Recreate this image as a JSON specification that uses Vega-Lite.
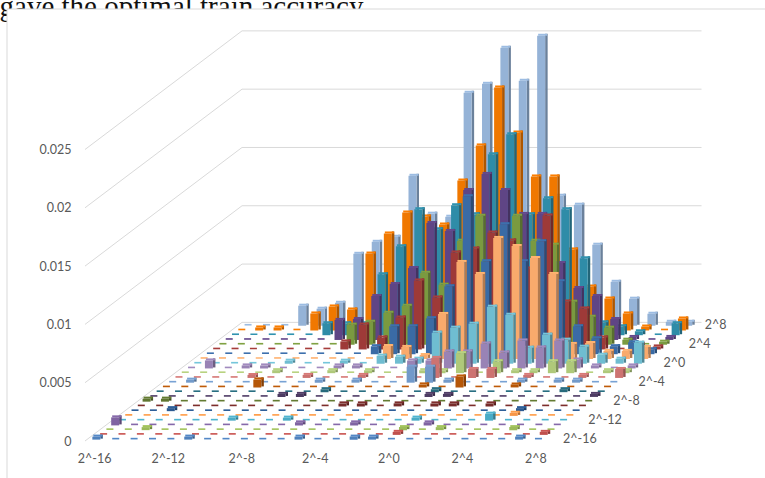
{"$schema":"https://vega.github.io/schema/vega-lite/v6.json","width":765,"height":478,"autosize":"none","padding":0,"background":"white","config":{"view":{"stroke":null},"font":"Lato","axis":{"title":null,"domain":false,"ticks":false,"grid":false,"labelFont":"Lato","labelFontSize":12.5,"labelColor":"#595959","labelOverlap":false,"labelFlush":false}},
"datasets":{"levels":[{"lvl":0},{"lvl":0.005},{"lvl":0.01},{"lvl":0.015},{"lvl":0.02},{"lvl":0.025}],
"rowLabels":[{"c":-16},{"c":-12},{"c":-8},{"c":-4},{"c":0},{"c":4},{"c":8}],
"cells":[
{"g":-16,"c":8,"v":0},{"g":-15,"c":8,"v":0},{"g":-14,"c":8,"v":0},{"g":-13,"c":8,"v":0.00172},{"g":-12,"c":8,"v":0.00146},{"g":-11,"c":8,"v":0.00197},{"g":-10,"c":8,"v":0.00617},{"g":-9,"c":8,"v":0.0072},{"g":-8,"c":8,"v":0.00763},{"g":-7,"c":8,"v":0.01286},{"g":-6,"c":8,"v":0.00961},{"g":-5,"c":8,"v":0.00935},{"g":-4,"c":8,"v":0.01998},{"g":-3,"c":8,"v":0.02075},{"g":-2,"c":8,"v":0.02384},{"g":-1,"c":8,"v":0.02101},{"g":0,"c":8,"v":0.02487},{"g":1,"c":8,"v":0.01115},{"g":2,"c":8,"v":0.01038},{"g":3,"c":8,"v":0.00695},{"g":4,"c":8,"v":0.00377},{"g":5,"c":8,"v":0.00232},{"g":6,"c":8,"v":0.00103},{"g":7,"c":8,"v":0.00034},{"g":8,"c":8,"v":0.00034},
{"g":-16,"c":7,"v":0},{"g":-15,"c":7,"v":0.00026},{"g":-14,"c":7,"v":0.00026},{"g":-13,"c":7,"v":0},{"g":-12,"c":7,"v":0.00146},{"g":-11,"c":7,"v":0.00206},{"g":-10,"c":7,"v":0.0018},{"g":-9,"c":7,"v":0.0066},{"g":-8,"c":7,"v":0.00832},{"g":-7,"c":7,"v":0.01012},{"g":-6,"c":7,"v":0.00978},{"g":-5,"c":7,"v":0.00909},{"g":-4,"c":7,"v":0.01286},{"g":-3,"c":7,"v":0.01587},{"g":-2,"c":7,"v":0.02084},{"g":-1,"c":7,"v":0.01698},{"g":0,"c":7,"v":0.01321},{"g":1,"c":7,"v":0.01321},{"g":2,"c":7,"v":0.00695},{"g":3,"c":7,"v":0.00377},{"g":4,"c":7,"v":0.00274},{"g":5,"c":7,"v":0.00146},{"g":6,"c":7,"v":0.00034},{"g":7,"c":7,"v":0},{"g":8,"c":7,"v":0.00103},
{"g":-16,"c":6,"v":0},{"g":-15,"c":6,"v":0},{"g":-14,"c":6,"v":0},{"g":-13,"c":6,"v":0},{"g":-12,"c":6,"v":0},{"g":-11,"c":6,"v":0.00103},{"g":-10,"c":6,"v":0.00103},{"g":-9,"c":6,"v":0.00103},{"g":-8,"c":6,"v":0.00523},{"g":-7,"c":6,"v":0.00763},{"g":-6,"c":6,"v":0.01081},{"g":-5,"c":6,"v":0.00909},{"g":-4,"c":6,"v":0.01115},{"g":-3,"c":6,"v":0.01038},{"g":-2,"c":6,"v":0.01552},{"g":-1,"c":6,"v":0.01724},{"g":0,"c":6,"v":0.01038},{"g":1,"c":6,"v":0.01175},{"g":2,"c":6,"v":0.01081},{"g":3,"c":6,"v":0.0066},{"g":4,"c":6,"v":0.00111},{"g":5,"c":6,"v":0.00077},{"g":6,"c":6,"v":0.00034},{"g":7,"c":6,"v":0},{"g":8,"c":6,"v":0.00103},
{"g":-16,"c":5,"v":0},{"g":-15,"c":5,"v":0},{"g":-14,"c":5,"v":0},{"g":-13,"c":5,"v":0},{"g":-12,"c":5,"v":0},{"g":-11,"c":5,"v":0},{"g":-10,"c":5,"v":0.00172},{"g":-9,"c":5,"v":0.0018},{"g":-8,"c":5,"v":0.00377},{"g":-7,"c":5,"v":0.0048},{"g":-6,"c":5,"v":0.00617},{"g":-5,"c":5,"v":0.01003},{"g":-4,"c":5,"v":0.00935},{"g":-3,"c":5,"v":0.01286},{"g":-2,"c":5,"v":0.01424},{"g":-1,"c":5,"v":0.01286},{"g":0,"c":5,"v":0.01081},{"g":1,"c":5,"v":0.01081},{"g":2,"c":5,"v":0.0066},{"g":3,"c":5,"v":0.00446},{"g":4,"c":5,"v":0.00377},{"g":5,"c":5,"v":0.0018},{"g":6,"c":5,"v":0.00026},{"g":7,"c":5,"v":0},{"g":8,"c":5,"v":0.00026},
{"g":-16,"c":4,"v":0},{"g":-15,"c":4,"v":0},{"g":-14,"c":4,"v":0},{"g":-13,"c":4,"v":0},{"g":-12,"c":4,"v":0},{"g":-11,"c":4,"v":0},{"g":-10,"c":4,"v":0},{"g":-9,"c":4,"v":0.00172},{"g":-8,"c":4,"v":0.00197},{"g":-7,"c":4,"v":0.00274},{"g":-6,"c":4,"v":0.00334},{"g":-5,"c":4,"v":0.00617},{"g":-4,"c":4,"v":0.00515},{"g":-3,"c":4,"v":0.00892},{"g":-2,"c":4,"v":0.01106},{"g":-1,"c":4,"v":0.00858},{"g":0,"c":4,"v":0.01106},{"g":1,"c":4,"v":0.00892},{"g":2,"c":4,"v":0.00858},{"g":3,"c":4,"v":0.00369},{"g":4,"c":4,"v":0.0024},{"g":5,"c":4,"v":0.00146},{"g":6,"c":4,"v":0.00043},{"g":7,"c":4,"v":0},{"g":8,"c":4,"v":0.00026},
{"g":-16,"c":3,"v":0},{"g":-15,"c":3,"v":0},{"g":-14,"c":3,"v":0},{"g":-13,"c":3,"v":0},{"g":-12,"c":3,"v":0},{"g":-11,"c":3,"v":0},{"g":-10,"c":3,"v":0},{"g":-9,"c":3,"v":0.00069},{"g":-8,"c":3,"v":0.00214},{"g":-7,"c":3,"v":0.00103},{"g":-6,"c":3,"v":0.00274},{"g":-5,"c":3,"v":0.00592},{"g":-4,"c":3,"v":0.00446},{"g":-3,"c":3,"v":0.00832},{"g":-2,"c":3,"v":0.00866},{"g":-1,"c":3,"v":0.01003},{"g":0,"c":3,"v":0.00935},{"g":1,"c":3,"v":0.00695},{"g":2,"c":3,"v":0.01149},{"g":3,"c":3,"v":0.00412},{"g":4,"c":3,"v":0.00352},{"g":5,"c":3,"v":0.00103},{"g":6,"c":3,"v":0},{"g":7,"c":3,"v":0.00043},{"g":8,"c":3,"v":0.00026},
{"g":-16,"c":2,"v":0},{"g":-15,"c":2,"v":0},{"g":-14,"c":2,"v":0},{"g":-13,"c":2,"v":0},{"g":-12,"c":2,"v":0},{"g":-11,"c":2,"v":0},{"g":-10,"c":2,"v":0},{"g":-9,"c":2,"v":0},{"g":-8,"c":2,"v":0},{"g":-7,"c":2,"v":0.00069},{"g":-6,"c":2,"v":0.0024},{"g":-5,"c":2,"v":0.0024},{"g":-4,"c":2,"v":0.00309},{"g":-3,"c":2,"v":0.00583},{"g":-2,"c":2,"v":0.01355},{"g":-1,"c":2,"v":0.00798},{"g":0,"c":2,"v":0.01115},{"g":1,"c":2,"v":0.00798},{"g":2,"c":2,"v":0.00969},{"g":3,"c":2,"v":0.00626},{"g":4,"c":2,"v":0.0024},{"g":5,"c":2,"v":0.00137},{"g":6,"c":2,"v":0.00069},{"g":7,"c":2,"v":0.00103},{"g":8,"c":2,"v":0.00043},
{"g":-16,"c":1,"v":0},{"g":-15,"c":1,"v":0},{"g":-14,"c":1,"v":0},{"g":-13,"c":1,"v":0},{"g":-12,"c":1,"v":0},{"g":-11,"c":1,"v":0},{"g":-10,"c":1,"v":0},{"g":-9,"c":1,"v":0},{"g":-8,"c":1,"v":0},{"g":-7,"c":1,"v":0},{"g":-6,"c":1,"v":0.00111},{"g":-5,"c":1,"v":0.00103},{"g":-4,"c":1,"v":0.00034},{"g":-3,"c":1,"v":0.00386},{"g":-2,"c":1,"v":0.00832},{"g":-1,"c":1,"v":0.00729},{"g":0,"c":1,"v":0.01038},{"g":1,"c":1,"v":0.00969},{"g":2,"c":1,"v":0.00866},{"g":3,"c":1,"v":0.00729},{"g":4,"c":1,"v":0.00129},{"g":5,"c":1,"v":0.00137},{"g":6,"c":1,"v":0.00069},{"g":7,"c":1,"v":0.00069},{"g":8,"c":1,"v":0.00103},
{"g":-16,"c":0,"v":0},{"g":-15,"c":0,"v":0},{"g":-14,"c":0,"v":0},{"g":-13,"c":0,"v":0},{"g":-12,"c":0,"v":0},{"g":-11,"c":0,"v":0.00026},{"g":-10,"c":0,"v":0},{"g":-9,"c":0,"v":0},{"g":-8,"c":0,"v":0.00026},{"g":-7,"c":0,"v":0},{"g":-6,"c":0,"v":0.00069},{"g":-5,"c":0,"v":0.0006},{"g":-4,"c":0,"v":0.00043},{"g":-3,"c":0,"v":0.00266},{"g":-2,"c":0,"v":0.00309},{"g":-1,"c":0,"v":0.00343},{"g":0,"c":0,"v":0.00489},{"g":1,"c":0,"v":0.0042},{"g":2,"c":0,"v":0.00137},{"g":3,"c":0,"v":0.00249},{"g":4,"c":0,"v":0.00206},{"g":5,"c":0,"v":0.00146},{"g":6,"c":0,"v":0.00077},{"g":7,"c":0,"v":0.00043},{"g":8,"c":0,"v":0.0018},
{"g":-16,"c":-1,"v":0},{"g":-15,"c":-1,"v":0.00069},{"g":-14,"c":-1,"v":0},{"g":-13,"c":-1,"v":0.00026},{"g":-12,"c":-1,"v":0.00026},{"g":-11,"c":-1,"v":0},{"g":-10,"c":-1,"v":0},{"g":-9,"c":-1,"v":0},{"g":-8,"c":-1,"v":0.00026},{"g":-7,"c":-1,"v":0.00026},{"g":-6,"c":-1,"v":0},{"g":-5,"c":-1,"v":0},{"g":-4,"c":-1,"v":0.00069},{"g":-3,"c":-1,"v":0.00069},{"g":-2,"c":-1,"v":0.00146},{"g":-1,"c":-1,"v":0.00146},{"g":0,"c":-1,"v":0.00214},{"g":1,"c":-1,"v":0.00137},{"g":2,"c":-1,"v":0.0024},{"g":3,"c":-1,"v":0.0018},{"g":4,"c":-1,"v":0.0024},{"g":5,"c":-1,"v":0.00077},{"g":6,"c":-1,"v":0.00026},{"g":7,"c":-1,"v":0},{"g":8,"c":-1,"v":0.00026},
{"g":-16,"c":-2,"v":0},{"g":-15,"c":-2,"v":0},{"g":-14,"c":-2,"v":0},{"g":-13,"c":-2,"v":0},{"g":-12,"c":-2,"v":0},{"g":-11,"c":-2,"v":0.00026},{"g":-10,"c":-2,"v":0},{"g":-9,"c":-2,"v":0},{"g":-8,"c":-2,"v":0.00026},{"g":-7,"c":-2,"v":0},{"g":-6,"c":-2,"v":0.00026},{"g":-5,"c":-2,"v":0},{"g":-4,"c":-2,"v":0},{"g":-3,"c":-2,"v":0.00026},{"g":-2,"c":-2,"v":0.00026},{"g":-1,"c":-2,"v":0.00172},{"g":0,"c":-2,"v":0},{"g":1,"c":-2,"v":0.00103},{"g":2,"c":-2,"v":0.00026},{"g":3,"c":-2,"v":0.00026},{"g":4,"c":-2,"v":0.00103},{"g":5,"c":-2,"v":0.00103},{"g":6,"c":-2,"v":0},{"g":7,"c":-2,"v":0.00026},{"g":8,"c":-2,"v":0.00026},
{"g":-16,"c":-3,"v":0},{"g":-15,"c":-3,"v":0},{"g":-14,"c":-3,"v":0},{"g":-13,"c":-3,"v":0},{"g":-12,"c":-3,"v":0.00026},{"g":-11,"c":-3,"v":0},{"g":-10,"c":-3,"v":0},{"g":-9,"c":-3,"v":0.00026},{"g":-8,"c":-3,"v":0},{"g":-7,"c":-3,"v":0},{"g":-6,"c":-3,"v":0.00026},{"g":-5,"c":-3,"v":0},{"g":-4,"c":-3,"v":0},{"g":-3,"c":-3,"v":0},{"g":-2,"c":-3,"v":0.00172},{"g":-1,"c":-3,"v":0},{"g":0,"c":-3,"v":0.00077},{"g":1,"c":-3,"v":0.00077},{"g":2,"c":-3,"v":0},{"g":3,"c":-3,"v":0.00026},{"g":4,"c":-3,"v":0},{"g":5,"c":-3,"v":0},{"g":6,"c":-3,"v":0.00026},{"g":7,"c":-3,"v":0},{"g":8,"c":-3,"v":0.00077},
{"g":-16,"c":-4,"v":0},{"g":-15,"c":-4,"v":0.00026},{"g":-14,"c":-4,"v":0},{"g":-13,"c":-4,"v":0},{"g":-12,"c":-4,"v":0},{"g":-11,"c":-4,"v":0},{"g":-10,"c":-4,"v":0},{"g":-9,"c":-4,"v":0},{"g":-8,"c":-4,"v":0.00026},{"g":-7,"c":-4,"v":0},{"g":-6,"c":-4,"v":0.00026},{"g":-5,"c":-4,"v":0},{"g":-4,"c":-4,"v":0},{"g":-3,"c":-4,"v":0.00137},{"g":-2,"c":-4,"v":0.00137},{"g":-1,"c":-4,"v":0.00026},{"g":0,"c":-4,"v":0},{"g":1,"c":-4,"v":0},{"g":2,"c":-4,"v":0},{"g":3,"c":-4,"v":0.00026},{"g":4,"c":-4,"v":0},{"g":5,"c":-4,"v":0.00026},{"g":6,"c":-4,"v":0.00026},{"g":7,"c":-4,"v":0},{"g":8,"c":-4,"v":0},
{"g":-16,"c":-5,"v":0},{"g":-15,"c":-5,"v":0},{"g":-14,"c":-5,"v":0},{"g":-13,"c":-5,"v":0},{"g":-12,"c":-5,"v":0},{"g":-11,"c":-5,"v":0.00069},{"g":-10,"c":-5,"v":0},{"g":-9,"c":-5,"v":0},{"g":-8,"c":-5,"v":0},{"g":-7,"c":-5,"v":0},{"g":-6,"c":-5,"v":0},{"g":-5,"c":-5,"v":0},{"g":-4,"c":-5,"v":0},{"g":-3,"c":-5,"v":0},{"g":-2,"c":-5,"v":0.00026},{"g":-1,"c":-5,"v":0},{"g":0,"c":-5,"v":0.00094},{"g":1,"c":-5,"v":0},{"g":2,"c":-5,"v":0},{"g":3,"c":-5,"v":0.00026},{"g":4,"c":-5,"v":0},{"g":5,"c":-5,"v":0},{"g":6,"c":-5,"v":0},{"g":7,"c":-5,"v":0},{"g":8,"c":-5,"v":0},
{"g":-16,"c":-6,"v":0},{"g":-15,"c":-6,"v":0},{"g":-14,"c":-6,"v":0},{"g":-13,"c":-6,"v":0},{"g":-12,"c":-6,"v":0},{"g":-11,"c":-6,"v":0},{"g":-10,"c":-6,"v":0},{"g":-9,"c":-6,"v":0},{"g":-8,"c":-6,"v":0},{"g":-7,"c":-6,"v":0.00026},{"g":-6,"c":-6,"v":0},{"g":-5,"c":-6,"v":0},{"g":-4,"c":-6,"v":0},{"g":-3,"c":-6,"v":0},{"g":-2,"c":-6,"v":0},{"g":-1,"c":-6,"v":0.00026},{"g":0,"c":-6,"v":0},{"g":1,"c":-6,"v":0},{"g":2,"c":-6,"v":0},{"g":3,"c":-6,"v":0},{"g":4,"c":-6,"v":0},{"g":5,"c":-6,"v":0},{"g":6,"c":-6,"v":0.00026},{"g":7,"c":-6,"v":0},{"g":8,"c":-6,"v":0},
{"g":-16,"c":-7,"v":0},{"g":-15,"c":-7,"v":0},{"g":-14,"c":-7,"v":0},{"g":-13,"c":-7,"v":0},{"g":-12,"c":-7,"v":0},{"g":-11,"c":-7,"v":0},{"g":-10,"c":-7,"v":0},{"g":-9,"c":-7,"v":0.00026},{"g":-8,"c":-7,"v":0.00026},{"g":-7,"c":-7,"v":0},{"g":-6,"c":-7,"v":0},{"g":-5,"c":-7,"v":0},{"g":-4,"c":-7,"v":0},{"g":-3,"c":-7,"v":0},{"g":-2,"c":-7,"v":0},{"g":-1,"c":-7,"v":0.00026},{"g":0,"c":-7,"v":0.00026},{"g":1,"c":-7,"v":0},{"g":2,"c":-7,"v":0},{"g":3,"c":-7,"v":0},{"g":4,"c":-7,"v":0},{"g":5,"c":-7,"v":0},{"g":6,"c":-7,"v":0},{"g":7,"c":-7,"v":0},{"g":8,"c":-7,"v":0.00026},
{"g":-16,"c":-8,"v":0.00026},{"g":-15,"c":-8,"v":0.00026},{"g":-14,"c":-8,"v":0},{"g":-13,"c":-8,"v":0},{"g":-12,"c":-8,"v":0},{"g":-11,"c":-8,"v":0},{"g":-10,"c":-8,"v":0},{"g":-9,"c":-8,"v":0},{"g":-8,"c":-8,"v":0},{"g":-7,"c":-8,"v":0},{"g":-6,"c":-8,"v":0},{"g":-5,"c":-8,"v":0},{"g":-4,"c":-8,"v":0},{"g":-3,"c":-8,"v":0},{"g":-2,"c":-8,"v":0},{"g":-1,"c":-8,"v":0},{"g":0,"c":-8,"v":0},{"g":1,"c":-8,"v":0},{"g":2,"c":-8,"v":0},{"g":3,"c":-8,"v":0},{"g":4,"c":-8,"v":0},{"g":5,"c":-8,"v":0},{"g":6,"c":-8,"v":0},{"g":7,"c":-8,"v":0},{"g":8,"c":-8,"v":0},
{"g":-16,"c":-9,"v":0},{"g":-15,"c":-9,"v":0},{"g":-14,"c":-9,"v":0},{"g":-13,"c":-9,"v":0},{"g":-12,"c":-9,"v":0},{"g":-11,"c":-9,"v":0},{"g":-10,"c":-9,"v":0},{"g":-9,"c":-9,"v":0},{"g":-8,"c":-9,"v":0},{"g":-7,"c":-9,"v":0},{"g":-6,"c":-9,"v":0},{"g":-5,"c":-9,"v":0.00026},{"g":-4,"c":-9,"v":0.00026},{"g":-3,"c":-9,"v":0},{"g":-2,"c":-9,"v":0.00026},{"g":-1,"c":-9,"v":0},{"g":0,"c":-9,"v":0.00026},{"g":1,"c":-9,"v":0.00026},{"g":2,"c":-9,"v":0},{"g":3,"c":-9,"v":0.00026},{"g":4,"c":-9,"v":0},{"g":5,"c":-9,"v":0},{"g":6,"c":-9,"v":0},{"g":7,"c":-9,"v":0},{"g":8,"c":-9,"v":0},
{"g":-16,"c":-10,"v":0},{"g":-15,"c":-10,"v":0},{"g":-14,"c":-10,"v":0.00026},{"g":-13,"c":-10,"v":0},{"g":-12,"c":-10,"v":0},{"g":-11,"c":-10,"v":0},{"g":-10,"c":-10,"v":0},{"g":-9,"c":-10,"v":0},{"g":-8,"c":-10,"v":0},{"g":-7,"c":-10,"v":0},{"g":-6,"c":-10,"v":0},{"g":-5,"c":-10,"v":0},{"g":-4,"c":-10,"v":0},{"g":-3,"c":-10,"v":0},{"g":-2,"c":-10,"v":0},{"g":-1,"c":-10,"v":0},{"g":0,"c":-10,"v":0},{"g":1,"c":-10,"v":0},{"g":2,"c":-10,"v":0},{"g":3,"c":-10,"v":0},{"g":4,"c":-10,"v":0},{"g":5,"c":-10,"v":0.00026},{"g":6,"c":-10,"v":0},{"g":7,"c":-10,"v":0},{"g":8,"c":-10,"v":0},
{"g":-16,"c":-11,"v":0},{"g":-15,"c":-11,"v":0},{"g":-14,"c":-11,"v":0},{"g":-13,"c":-11,"v":0},{"g":-12,"c":-11,"v":0},{"g":-11,"c":-11,"v":0},{"g":-10,"c":-11,"v":0},{"g":-9,"c":-11,"v":0},{"g":-8,"c":-11,"v":0},{"g":-7,"c":-11,"v":0},{"g":-6,"c":-11,"v":0},{"g":-5,"c":-11,"v":0},{"g":-4,"c":-11,"v":0},{"g":-3,"c":-11,"v":0},{"g":-2,"c":-11,"v":0},{"g":-1,"c":-11,"v":0},{"g":0,"c":-11,"v":0},{"g":1,"c":-11,"v":0},{"g":2,"c":-11,"v":0},{"g":3,"c":-11,"v":0},{"g":4,"c":-11,"v":0},{"g":5,"c":-11,"v":0.00026},{"g":6,"c":-11,"v":0},{"g":7,"c":-11,"v":0},{"g":8,"c":-11,"v":0},
{"g":-16,"c":-12,"v":0},{"g":-15,"c":-12,"v":0},{"g":-14,"c":-12,"v":0},{"g":-13,"c":-12,"v":0},{"g":-12,"c":-12,"v":0},{"g":-11,"c":-12,"v":0},{"g":-10,"c":-12,"v":0.00026},{"g":-9,"c":-12,"v":0},{"g":-8,"c":-12,"v":0},{"g":-7,"c":-12,"v":0.00026},{"g":-6,"c":-12,"v":0},{"g":-5,"c":-12,"v":0},{"g":-4,"c":-12,"v":0},{"g":-3,"c":-12,"v":0},{"g":-2,"c":-12,"v":0},{"g":-1,"c":-12,"v":0},{"g":0,"c":-12,"v":0.00026},{"g":1,"c":-12,"v":0},{"g":2,"c":-12,"v":0},{"g":3,"c":-12,"v":0},{"g":4,"c":-12,"v":0.0006},{"g":5,"c":-12,"v":0},{"g":6,"c":-12,"v":0},{"g":7,"c":-12,"v":0},{"g":8,"c":-12,"v":0},
{"g":-16,"c":-13,"v":0.00069},{"g":-15,"c":-13,"v":0},{"g":-14,"c":-13,"v":0},{"g":-13,"c":-13,"v":0},{"g":-12,"c":-13,"v":0},{"g":-11,"c":-13,"v":0},{"g":-10,"c":-13,"v":0},{"g":-9,"c":-13,"v":0},{"g":-8,"c":-13,"v":0},{"g":-7,"c":-13,"v":0},{"g":-6,"c":-13,"v":0.00026},{"g":-5,"c":-13,"v":0},{"g":-4,"c":-13,"v":0},{"g":-3,"c":-13,"v":0.00026},{"g":-2,"c":-13,"v":0},{"g":-1,"c":-13,"v":0},{"g":0,"c":-13,"v":0},{"g":1,"c":-13,"v":0.00026},{"g":2,"c":-13,"v":0},{"g":3,"c":-13,"v":0},{"g":4,"c":-13,"v":0},{"g":5,"c":-13,"v":0},{"g":6,"c":-13,"v":0},{"g":7,"c":-13,"v":0},{"g":8,"c":-13,"v":0},
{"g":-16,"c":-14,"v":0},{"g":-15,"c":-14,"v":0},{"g":-14,"c":-14,"v":0.00026},{"g":-13,"c":-14,"v":0},{"g":-12,"c":-14,"v":0},{"g":-11,"c":-14,"v":0},{"g":-10,"c":-14,"v":0},{"g":-9,"c":-14,"v":0},{"g":-8,"c":-14,"v":0},{"g":-7,"c":-14,"v":0},{"g":-6,"c":-14,"v":0},{"g":-5,"c":-14,"v":0},{"g":-4,"c":-14,"v":0},{"g":-3,"c":-14,"v":0},{"g":-2,"c":-14,"v":0},{"g":-1,"c":-14,"v":0},{"g":0,"c":-14,"v":0.00026},{"g":1,"c":-14,"v":0},{"g":2,"c":-14,"v":0.00026},{"g":3,"c":-14,"v":0},{"g":4,"c":-14,"v":0},{"g":5,"c":-14,"v":0},{"g":6,"c":-14,"v":0.00026},{"g":7,"c":-14,"v":0},{"g":8,"c":-14,"v":0},
{"g":-16,"c":-15,"v":0},{"g":-15,"c":-15,"v":0},{"g":-14,"c":-15,"v":0},{"g":-13,"c":-15,"v":0},{"g":-12,"c":-15,"v":0},{"g":-11,"c":-15,"v":0},{"g":-10,"c":-15,"v":0},{"g":-9,"c":-15,"v":0},{"g":-8,"c":-15,"v":0},{"g":-7,"c":-15,"v":0},{"g":-6,"c":-15,"v":0},{"g":-5,"c":-15,"v":0},{"g":-4,"c":-15,"v":0},{"g":-3,"c":-15,"v":0},{"g":-2,"c":-15,"v":0},{"g":-1,"c":-15,"v":0},{"g":0,"c":-15,"v":0.00026},{"g":1,"c":-15,"v":0},{"g":2,"c":-15,"v":0},{"g":3,"c":-15,"v":0},{"g":4,"c":-15,"v":0},{"g":5,"c":-15,"v":0},{"g":6,"c":-15,"v":0},{"g":7,"c":-15,"v":0},{"g":8,"c":-15,"v":0.00026},
{"g":-16,"c":-16,"v":0.00026},{"g":-15,"c":-16,"v":0},{"g":-14,"c":-16,"v":0},{"g":-13,"c":-16,"v":0},{"g":-12,"c":-16,"v":0},{"g":-11,"c":-16,"v":0.00026},{"g":-10,"c":-16,"v":0},{"g":-9,"c":-16,"v":0},{"g":-8,"c":-16,"v":0},{"g":-7,"c":-16,"v":0},{"g":-6,"c":-16,"v":0},{"g":-5,"c":-16,"v":0.00026},{"g":-4,"c":-16,"v":0},{"g":-3,"c":-16,"v":0},{"g":-2,"c":-16,"v":0.00026},{"g":-1,"c":-16,"v":0.00026},{"g":0,"c":-16,"v":0},{"g":1,"c":-16,"v":0},{"g":2,"c":-16,"v":0},{"g":3,"c":-16,"v":0},{"g":4,"c":-16,"v":0},{"g":5,"c":-16,"v":0},{"g":6,"c":-16,"v":0},{"g":7,"c":-16,"v":0.00026},{"g":8,"c":-16,"v":0}
]},
"layer":[
{"data":{"values":[{"t":"gave the optimal train accuracy"}]},"mark":{"type":"text","align":"left","baseline":"alphabetic","font":"Liberation Serif","fontSize":29,"color":"#111111"},
"encoding":{"text":{"field":"t"},"x":{"datum":-21.15,"type":"quantitative","scale":{"domain":[-21.125,20.496],"range":[0,765],"nice":false,"zero":false},"axis":{"orient":"bottom","offset":-30,"values":[-16,-12,-8,-4,0,4,8],"labelExpr":"'2^'+datum.value","labelPadding":4,"zindex":1}},"y":{"datum":0.03645,"type":"quantitative","scale":{"domain":[-0.003173,0.037822],"range":[478,0],"nice":false,"zero":false},"axis":{"orient":"left","offset":-76,"values":[0,0.005,0.01,0.015,0.02,0.025],"labelExpr":"''+datum.value","labelPadding":5,"zindex":1}}}},
{"data":{"values":[{"p":1}]},"mark":{"type":"rect","fill":"white","stroke":"#d9d9d9","strokeWidth":1},
"encoding":{"x":{"datum":-20.744,"type":"quantitative","scale":{"domain":[-21.125,20.496],"range":[0,765],"nice":false,"zero":false}},"x2":{"datum":21},"y":{"datum":0.03705,"type":"quantitative","scale":{"domain":[-0.003173,0.037822],"range":[478,0],"nice":false,"zero":false}},"y2":{"datum":-0.0035}}},
{"data":{"name":"levels"},"transform":[{"calculate":"datum.lvl+0.010175","as":"lvlBack"},{"calculate":"-16.5","as":"x0"},{"calculate":"-16.5+25*0.3417","as":"x1"}],"mark":{"type":"rule","color":"#d9d9d9","strokeWidth":1},
"encoding":{"x":{"field":"x0","type":"quantitative","scale":{"domain":[-21.125,20.496],"range":[0,765],"nice":false,"zero":false}},"x2":{"field":"x1"},
"y":{"field":"lvl","type":"quantitative","scale":{"domain":[-0.003173,0.037822],"range":[478,0],"nice":false,"zero":false}},"y2":{"field":"lvlBack"}}},
{"data":{"name":"levels"},"transform":[{"calculate":"datum.lvl+0.010175","as":"lvlBack"},{"calculate":"-16.5+25*0.3417","as":"x0"},{"calculate":"-16.5+25*0.3417+25","as":"x1"}],"mark":{"type":"rule","color":"#d9d9d9","strokeWidth":1},
"encoding":{"x":{"field":"x0","type":"quantitative","scale":{"domain":[-21.125,20.496],"range":[0,765],"nice":false,"zero":false}},"x2":{"field":"x1"},"y":{"field":"lvlBack","type":"quantitative","scale":{"domain":[-0.003173,0.037822],"range":[478,0],"nice":false,"zero":false}}}},
{"data":{"name":"cells"},"transform":[
{"calculate":"['#4F81BD','#C0504D','#9BBB59','#8064A2','#4BACC6','#F79646','#2C5A92','#772C2A','#5F7530','#4D3B62','#276A7C','#B65708','#729ACA','#CD7371','#AFC97A','#9983B5','#6FBDD1','#F9AA6C','#3A6BA5','#9E3A38','#7A9A40','#5F4585','#2F8CA8','#F07800','#95B3D7'][datum.c+16]","as":"col"},
{"calculate":"datum.g+(datum.c+16.5)*0.3417","as":"X"},
{"calculate":"(datum.c+16.5)*0.000407","as":"Y0"},
{"calculate":"datum.Y0+datum.v","as":"Yt"},
{"calculate":"[0,1,2]","as":"f"},{"flatten":["f"]},
{"filter":"datum.v>0 || datum.f==1"},
{"calculate":"datum.f==0 ? datum.X+3*0.0544 : datum.f==1 ? (datum.v>0 ? datum.X-4*0.0544 : datum.X-3.5*0.0544) : datum.X-5*0.0544","as":"x1"},
{"calculate":"datum.f==0 ? datum.X+5.5*0.0544 : datum.f==1 ? (datum.v>0 ? datum.X+5*0.0544 : datum.X+3.5*0.0544) : datum.X+3*0.0544","as":"x2"},
{"calculate":"datum.f==0 ? datum.Y0 : datum.f==1 ? (datum.v>0 ? datum.Yt-0.00008576 : datum.Yt-0.00007) : datum.Y0-0.00008576","as":"y1"},
{"calculate":"datum.f==0 ? datum.Yt+0.00008576 : datum.f==1 ? (datum.v>0 ? datum.Yt+0.00008576 : datum.Yt+0.00007) : datum.Yt-0.00008576","as":"y2"},
{"calculate":"datum.f==0 ? 0.72 : datum.f==1 ? 1.05 : 1","as":"k"},
{"calculate":"'rgb('+round(rgb(datum.col).r*datum.k)+','+round(rgb(datum.col).g*datum.k)+','+round(rgb(datum.col).b*datum.k)+')'","as":"shade"}
],"mark":{"type":"rect"},
"encoding":{"x":{"field":"x1","type":"quantitative","scale":{"domain":[-21.125,20.496],"range":[0,765],"nice":false,"zero":false}},"x2":{"field":"x2"},"y":{"field":"y1","type":"quantitative","scale":{"domain":[-0.003173,0.037822],"range":[478,0],"nice":false,"zero":false}},"y2":{"field":"y2"},"fill":{"field":"shade","type":"nominal","scale":null,"legend":null}}},
{"data":{"name":"rowLabels"},"transform":[{"calculate":"'2^'+datum.c","as":"t"},{"calculate":"9.34+(datum.c+16.5)*0.3417-(datum.c==8?0.5:0)","as":"lx"},{"calculate":"(datum.c+16.5)*0.000407","as":"ly"}],"mark":{"type":"text","align":"left","baseline":"middle","font":"Lato","fontSize":12.5,"color":"#595959"},
"encoding":{"text":{"field":"t"},"x":{"field":"lx","type":"quantitative","scale":{"domain":[-21.125,20.496],"range":[0,765],"nice":false,"zero":false}},"y":{"field":"ly","type":"quantitative","scale":{"domain":[-0.003173,0.037822],"range":[478,0],"nice":false,"zero":false}}}}
]}
